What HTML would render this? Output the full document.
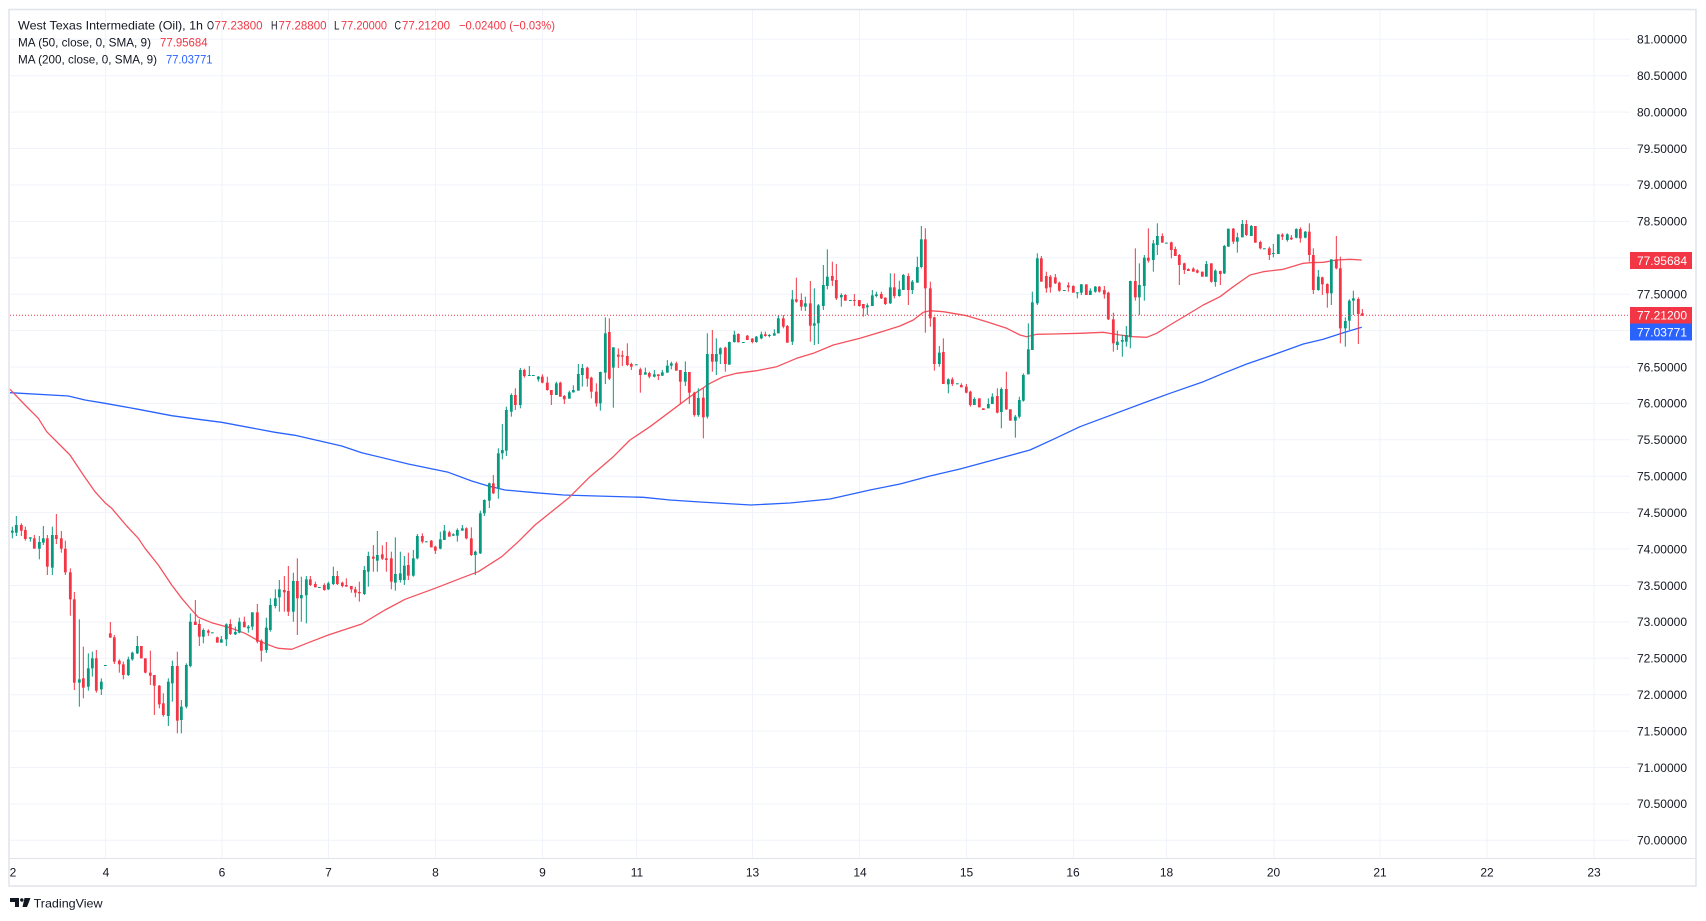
<!DOCTYPE html>
<html><head><meta charset="utf-8">
<style>
html,body{margin:0;padding:0;background:#fff;width:1706px;height:921px;overflow:hidden;}
svg{position:absolute;left:0;top:0;font-family:"Liberation Sans",sans-serif;}
</style></head>
<body>
<svg id="c" width="1706" height="921" viewBox="0 0 1706 921" xmlns="http://www.w3.org/2000/svg">
<rect x="0" y="0" width="1706" height="921" fill="#fff"/>
<!-- horizontal grid -->
<g stroke="#f0f3fa" stroke-width="1">
<line x1="10" y1="39.3" x2="1630" y2="39.3"/><line x1="10" y1="75.7" x2="1630" y2="75.7"/>
<line x1="10" y1="112.1" x2="1630" y2="112.1"/><line x1="10" y1="148.5" x2="1630" y2="148.5"/>
<line x1="10" y1="184.9" x2="1630" y2="184.9"/><line x1="10" y1="221.4" x2="1630" y2="221.4"/>
<line x1="10" y1="257.8" x2="1630" y2="257.8"/><line x1="10" y1="294.2" x2="1630" y2="294.2"/>
<line x1="10" y1="330.6" x2="1630" y2="330.6"/><line x1="10" y1="367" x2="1630" y2="367"/>
<line x1="10" y1="403.4" x2="1630" y2="403.4"/><line x1="10" y1="439.8" x2="1630" y2="439.8"/>
<line x1="10" y1="476.2" x2="1630" y2="476.2"/><line x1="10" y1="512.6" x2="1630" y2="512.6"/>
<line x1="10" y1="549" x2="1630" y2="549"/><line x1="10" y1="585.5" x2="1630" y2="585.5"/>
<line x1="10" y1="621.9" x2="1630" y2="621.9"/><line x1="10" y1="658.3" x2="1630" y2="658.3"/>
<line x1="10" y1="694.7" x2="1630" y2="694.7"/><line x1="10" y1="731.1" x2="1630" y2="731.1"/>
<line x1="10" y1="767.5" x2="1630" y2="767.5"/><line x1="10" y1="803.9" x2="1630" y2="803.9"/>
<line x1="10" y1="840.3" x2="1630" y2="840.3"/>
</g>
<!-- vertical grid -->
<g stroke="#f0f3fa" stroke-width="1">
<line x1="105.5" y1="10" x2="105.5" y2="858"/><line x1="222" y1="10" x2="222" y2="858"/>
<line x1="328.5" y1="10" x2="328.5" y2="858"/><line x1="435.5" y1="10" x2="435.5" y2="858"/>
<line x1="542.5" y1="10" x2="542.5" y2="858"/><line x1="636.5" y1="10" x2="636.5" y2="858"/>
<line x1="752.5" y1="10" x2="752.5" y2="858"/><line x1="859.5" y1="10" x2="859.5" y2="858"/>
<line x1="966.5" y1="10" x2="966.5" y2="858"/><line x1="1073.5" y1="10" x2="1073.5" y2="858"/>
<line x1="1166.5" y1="10" x2="1166.5" y2="858"/><line x1="1274" y1="10" x2="1274" y2="858"/>
<line x1="1380" y1="10" x2="1380" y2="858"/><line x1="1487" y1="10" x2="1487" y2="858"/>
<line x1="1594" y1="10" x2="1594" y2="858"/>
</g>
<!-- frame -->
<rect x="9" y="9.5" width="1687" height="876.5" fill="none" stroke="#e0e3eb" stroke-width="1.5"/>
<line x1="9" y1="858.5" x2="1696" y2="858.5" stroke="#e0e3eb" stroke-width="1"/>

<!-- MA lines -->
<polyline fill="none" stroke="#2962ff" stroke-width="1.3" stroke-linejoin="round" points="10,392.7 68.3,396 85,400 105,403.3 138.3,409.3 171.7,415.7 198.3,419.3 221.7,422.3 275,432.3 295,435.3 341.7,446 361.7,452.7 408.3,464 448.3,472.3 471.7,481 488.3,486 505,490 535,492.7 563.3,495 596.7,496 643.3,497.3 670,500 700,502 751,505 790,503 830,499 870,490 900,484 930,476 960,469 993.3,460 1030,450 1053.3,439.3 1080,426.7 1151.7,400 1170,393.3 1203.3,381.7 1223.3,373.3 1246.7,364 1270,356 1286.7,350 1303.3,344 1323.3,339.3 1343.3,332.7 1361.7,327.3"/>
<polyline fill="none" stroke="#f4525f" stroke-width="1.3" stroke-linejoin="round" points="10,389.3 25,405 38.3,418.3 46.7,431.7 60,445 70,455 83.3,475 95,491.7 105,502.7 111.7,508.3 126.7,526 138.3,538.3 145,548.3 158.3,565 171.7,585 181.7,598.3 191.7,610 198.3,617.3 211.7,622.7 231.7,628.3 245,633.3 258.3,640.7 275,647.3 278.3,648.3 291.7,649.3 308.3,642.7 328.3,635 361.7,624 385,610 405,599.3 435,588.3 465,576.7 478.3,571.7 501.7,556.7 518.3,541.7 535,525 568.3,498.3 590,476.7 613.3,456.7 630,440 650,426.7 670,411.7 690,396.7 710,383.3 723.3,376.7 736.7,373.3 756.7,370.7 776.7,366.7 796.7,358.3 813.3,353.3 833.3,345 860,338.3 880,332.3 900,326 913.3,320 923.3,312.3 930,310.7 943.3,311.7 966.7,315.7 986.7,321.7 1006.7,328.3 1020,335 1026.7,336.7 1036.7,334.3 1053.3,334 1080,333.3 1103.3,332.3 1120,335 1133.3,336.7 1146.7,337.3 1156.7,333.3 1170,325 1186.7,315 1203.3,305 1220,296.7 1233.3,286.7 1250,275 1263.3,271.7 1283.3,269.3 1303.3,263.3 1310,262.7 1323.3,262.3 1336.7,260 1350,259.3 1361.7,260"/>

<g id="candles"></g>

<!-- last price dotted line -->
<line x1="10" y1="315.2" x2="1630" y2="315.2" stroke="#f23645" stroke-width="1" stroke-dasharray="1 2"/>

<!-- header -->
<g font-size="12" fill="#131722">
<text x="18" y="29.3" textLength="185" lengthAdjust="spacingAndGlyphs">West Texas Intermediate (Oil), 1h</text>
<text x="207" y="29.3" textLength="7" lengthAdjust="spacingAndGlyphs">O</text>
<text x="214.5" y="29.3" fill="#f23645" textLength="48" lengthAdjust="spacingAndGlyphs">77.23800</text>
<text x="271" y="29.3" textLength="6.5" lengthAdjust="spacingAndGlyphs">H</text>
<text x="278.5" y="29.3" fill="#f23645" textLength="48" lengthAdjust="spacingAndGlyphs">77.28800</text>
<text x="334" y="29.3" textLength="5.5" lengthAdjust="spacingAndGlyphs">L</text>
<text x="341" y="29.3" fill="#f23645" textLength="46" lengthAdjust="spacingAndGlyphs">77.20000</text>
<text x="394.5" y="29.3" textLength="6.5" lengthAdjust="spacingAndGlyphs">C</text>
<text x="402" y="29.3" fill="#f23645" textLength="48" lengthAdjust="spacingAndGlyphs">77.21200</text>
<text x="459" y="29.3" fill="#f23645" textLength="96" lengthAdjust="spacingAndGlyphs">−0.02400 (−0.03%)</text>
<text x="18" y="46.6" textLength="133" lengthAdjust="spacingAndGlyphs">MA (50, close, 0, SMA, 9)</text>
<text x="160" y="46.6" fill="#f23645" textLength="47.6" lengthAdjust="spacingAndGlyphs">77.95684</text>
<text x="18" y="63.6" textLength="139" lengthAdjust="spacingAndGlyphs">MA (200, close, 0, SMA, 9)</text>
<text x="166" y="63.6" fill="#2962ff" textLength="46.5" lengthAdjust="spacingAndGlyphs">77.03771</text>
</g>

<!-- price axis labels -->
<g font-size="12" fill="#131722" text-anchor="end">
<text x="1687" y="43.6">81.00000</text><text x="1687" y="80">80.50000</text>
<text x="1687" y="116.4">80.00000</text><text x="1687" y="152.8">79.50000</text>
<text x="1687" y="189.2">79.00000</text><text x="1687" y="225.7">78.50000</text>
<text x="1687" y="298.5">77.50000</text>
<text x="1687" y="371.3">76.50000</text><text x="1687" y="407.7">76.00000</text>
<text x="1687" y="444.1">75.50000</text><text x="1687" y="480.5">75.00000</text>
<text x="1687" y="516.9">74.50000</text><text x="1687" y="553.3">74.00000</text>
<text x="1687" y="589.8">73.50000</text><text x="1687" y="626.2">73.00000</text>
<text x="1687" y="662.6">72.50000</text><text x="1687" y="699">72.00000</text>
<text x="1687" y="735.4">71.50000</text><text x="1687" y="771.8">71.00000</text>
<text x="1687" y="808.2">70.50000</text><text x="1687" y="844.6">70.00000</text>
</g>

<!-- price tags -->
<rect x="1630" y="252" width="62" height="17" fill="#f23645"/>
<rect x="1630" y="307" width="62" height="16.5" fill="#f23645"/>
<rect x="1630" y="323.5" width="62" height="17" fill="#2962ff"/>
<g font-size="12" fill="#fff" text-anchor="end">
<text x="1687" y="264.8">77.95684</text>
<text x="1687" y="319.6">77.21200</text>
<text x="1687" y="336.4">77.03771</text>
</g>

<!-- time axis labels -->
<g font-size="12" fill="#131722" text-anchor="middle">
<text x="13" y="876.3">2</text><text x="106" y="876.3">4</text><text x="222" y="876.3">6</text>
<text x="328.5" y="876.3">7</text><text x="435.5" y="876.3">8</text><text x="542.5" y="876.3">9</text>
<text x="637" y="876.3">11</text><text x="752.5" y="876.3">13</text><text x="860" y="876.3">14</text>
<text x="966.5" y="876.3">15</text><text x="1073" y="876.3">16</text><text x="1166.5" y="876.3">18</text>
<text x="1273.5" y="876.3">20</text><text x="1380" y="876.3">21</text><text x="1487" y="876.3">22</text>
<text x="1594" y="876.3">23</text>
</g>

<!-- TradingView logo -->
<g fill="#131722">
<path d="M10 898 H19 V907 H15 V902 H10 Z"/>
<circle cx="21.8" cy="900" r="1.7"/>
<path d="M24.5 898 H30.5 L27 907 H22.5 Z"/>
</g>
<text x="33.6" y="907.3" font-size="12" fill="#131722" textLength="69" lengthAdjust="spacingAndGlyphs">TradingView</text>
</svg>
<script>
(function(){
var A=[[22,1,632,638,620,655],[34,1,615,638,588,648],[49,0,615,632,610,648],[61,0,630,657,620,662],[76,1,652,656,652,665],[88,0,655,686,645,686],[103,1,666,686,648,718],[115,1,655,668,618,675],[127,0,655,740,645,765],[142,1,645,743,620,765],[154,0,645,657,582,672],[169,0,655,686,633,698],[181,0,686,757,662,765],[196,0,757,838,745,887],[208,0,838,1088,816,1110],[223,1,1078,1088,898,1160],[235,0,1075,1103,980,1135],[250,1,1045,1100,1000,1112],[262,1,1015,1045,995,1070],[274,0,1015,1112,990,1118],[289,1,1085,1108,1075,1125],[301,1,1035,1036,1035,1036],[316,0,940,953,906,953],[328,0,952,1025,945,1032],[343,0,1022,1033,1018,1058],[355,0,1033,1065,1025,1078],[370,1,1018,1065,1010,1068],[382,1,998,1018,995,1022],[397,1,978,1000,948,1002],[409,0,978,1015,978,1015],[421,0,1015,1058,1015,1060],[436,0,1058,1067,992,1095],[448,0,1065,1097,1065,1185],[463,0,1097,1153,1095,1165],[475,0,1150,1185,1120,1190],[490,1,1085,1188,1075,1218],[502,1,1038,1090,1022,1145],[517,0,1038,1202,995,1240],[529,1,1160,1200,1140,1240],[544,1,1035,1160,1030,1165],[556,1,905,1038,880,1042],[571,0,905,915,840,915],[583,0,912,950,898,978],[595,1,930,950,925,970],[610,0,932,938,928,948],[622,1,937,938,937,938],[637,0,952,968,950,968],[649,1,958,968,948,968],[664,1,913,958,910,978],[676,0,912,942,898,945],[691,1,936,943,920,945],[703,1,905,938,893,940],[718,0,905,922,890,922],[730,1,920,925,915,938],[742,1,877,920,877,930],[757,0,877,965,852,970],[769,0,962,992,958,1025],[784,1,925,990,893,998]];
var B=[[4,1,1043,1110,1040,1118],[16,1,975,1050,955,1055],[31,1,955,978,928,985],[43,1,928,952,900,995],[58,0,930,937,888,995],[70,0,933,995,858,1008],[85,1,903,995,878,1025],[97,0,903,955,835,1065],[109,1,945,955,890,1025],[124,1,898,946,888,1030],[136,0,898,915,888,918],[151,0,912,922,905,922],[163,1,921,922,921,922],[178,0,915,930,910,932],[190,1,910,928,905,930],[205,1,888,912,860,915],[217,0,888,912,873,915],[232,0,908,918,905,922],[244,0,915,920,895,920],[259,0,918,928,918,938],[271,0,928,938,920,952],[283,0,936,940,905,965],[298,1,870,942,858,945],[310,1,828,875,815,920],[325,0,830,836,795,875],[337,1,825,842,753,875],[352,0,823,836,796,840],[364,0,835,840,786,875],[379,0,835,905,815,928],[391,1,882,908,772,932],[406,1,880,900,815,908],[418,1,857,900,828,915],[430,0,855,887,818,900],[445,1,835,887,810,890],[457,1,768,835,762,838],[472,0,768,785,760,790],[484,1,784,785,784,785],[499,0,782,802,780,802],[511,0,800,812,797,822],[526,1,778,806,755,808],[538,1,752,780,735,780],[553,0,757,770,752,770],[565,1,763,767,760,768],[577,1,750,767,745,785],[592,1,745,752,735,752],[604,0,745,775,742,778],[619,0,775,825,742,828],[631,1,815,825,812,885],[646,1,700,820,692,822],[658,1,660,700,658,708],[673,1,610,662,608,684],[685,0,610,640,585,642],[700,1,520,625,505,656],[712,1,510,520,432,538],[724,1,390,512,380,528],[739,1,345,395,340,410],[751,0,345,375,325,390],[766,1,270,375,264,385],[778,0,270,288,266,293],[793,1,285,286,258,288],[805,1,285,286,285,286]];
var C=[[25,1,410,418,408,425],[37,0,410,428,403,430],[52,0,428,450,410,452],[64,0,450,465,450,495],[79,1,430,465,425,465],[91,0,428,470,425,470],[103,0,468,478,465,492],[118,1,457,476,452,476],[130,1,450,457,436,458],[145,1,402,452,372,452],[157,1,384,405,372,440],[172,0,383,416,380,440],[184,0,413,455,410,475],[199,0,455,490,430,500],[211,1,396,490,395,512],[226,1,280,398,232,432],[238,0,276,416,235,420],[250,1,322,383,322,503],[265,0,344,350,325,384],[277,0,346,350,332,378],[292,0,348,375,310,378],[304,0,372,380,368,390],[319,1,373,374,373,374],[331,0,388,405,383,458],[346,1,397,404,383,404],[358,0,399,410,395,415],[373,1,403,410,390,412],[385,0,403,408,403,420],[397,1,397,407,390,408],[412,1,377,398,360,398],[424,1,370,377,365,388],[439,0,370,392,365,392],[451,0,390,425,390,492],[466,1,396,425,364,438],[478,0,396,458,396,492],[493,0,458,525,455,530],[505,1,474,525,445,530],[520,0,473,532,445,595],[532,1,342,530,280,536],[547,0,342,365,270,395],[559,1,342,365,295,405],[571,1,325,343,322,372],[586,0,323,372,320,395],[598,1,306,374,305,374],[613,1,284,306,272,308],[625,0,282,307,280,307],[640,1,306,307,306,307],[652,0,287,300,285,300],[667,0,296,306,294,310],[679,1,290,306,288,308],[694,1,283,295,275,298],[706,0,283,288,275,290],[718,1,285,287,282,292],[733,1,280,287,268,287],[745,1,235,280,225,280],[760,0,235,260,225,265],[772,0,258,308,255,308],[787,1,178,305,150,315],[799,0,178,185,113,188]];
var D=[[4,0,300,320,280,332],[16,1,310,320,290,333],[31,0,310,377,243,425],[43,1,370,377,265,435],[55,1,316,370,312,432],[70,1,255,318,195,330],[82,1,230,258,148,268],[97,0,228,242,185,258],[109,0,240,295,192,300],[124,1,285,292,280,320],[136,0,285,302,282,302],[151,1,300,301,300,301],[163,0,300,301,282,318],[178,0,300,318,300,320],[190,0,312,325,312,350],[202,1,316,322,310,345],[217,1,286,318,270,318],[229,1,283,288,275,292],[244,0,282,295,275,297],[256,0,293,312,292,315],[271,1,262,310,220,312],[283,0,262,288,220,295],[298,1,268,288,242,290],[310,1,225,270,222,270],[325,0,228,270,220,315],[337,1,245,270,240,282],[352,1,201,248,170,248],[364,1,118,201,78,205],[376,0,118,265,85,398],[391,0,265,355,245,380],[403,0,352,492,350,512],[418,1,458,492,438,500],[430,0,456,552,415,552],[445,1,538,553,535,580],[457,0,538,552,532,558],[472,1,550,551,550,551],[484,0,555,562,550,562],[499,0,560,578,552,580],[511,0,575,615,572,620],[523,1,597,615,592,615],[538,0,595,622,595,622],[550,0,625,630,625,630],[565,1,612,625,595,625],[577,1,590,612,580,612],[592,0,588,638,565,640],[604,1,567,636,562,685],[619,0,567,628,515,630],[631,0,628,662,628,662],[646,1,650,662,645,713],[658,1,600,650,590,655],[670,1,525,602,520,605],[685,1,448,523,370,523],[697,1,307,450,275,450],[712,1,175,310,160,315],[724,0,175,245,168,245],[739,0,228,265,215,278],[751,0,230,262,225,278],[766,0,232,250,222,252],[778,0,248,272,245,275],[793,1,270,271,270,271],[805,0,256,262,247,275],[820,0,258,278,256,278]];
var E=[[22,1,277,278,277,295],[34,1,253,278,252,285],[49,0,253,285,253,285],[61,1,272,285,265,285],[76,1,260,275,258,278],[88,0,260,275,258,278],[103,0,270,283,258,296],[115,0,278,358,275,360],[130,0,358,430,338,455],[142,1,425,435,392,450],[157,1,420,425,405,470],[169,1,405,425,378,440],[181,1,243,412,242,445],[196,0,243,292,145,302],[208,1,255,292,190,345],[223,1,173,258,165,302],[235,0,173,182,85,188],[250,1,130,180,120,215],[262,1,108,135,70,165],[277,0,108,128,100,128],[289,1,128,129,128,129],[304,0,127,150,125,175],[316,0,147,168,140,168],[328,0,165,195,162,255],[343,0,190,210,188,222],[355,0,207,213,205,213],[370,0,206,215,202,215],[382,0,211,218,208,220],[397,0,215,230,215,230],[409,1,192,230,183,230],[424,0,190,245,190,248],[436,1,212,246,208,260],[451,0,213,222,212,255],[463,1,138,220,135,222],[475,1,86,140,86,140],[490,0,86,125,84,132],[502,1,112,125,98,158],[517,1,72,112,60,112],[529,0,72,105,60,108],[544,1,78,108,75,108],[556,0,78,128,78,128],[571,0,126,145,122,148],[583,1,145,146,145,146],[598,0,145,165,140,180],[610,1,159,161,132,172],[625,1,103,162,103,162],[637,0,104,110,100,120],[652,1,103,120,100,125],[664,0,113,118,105,120],[679,1,87,113,85,115],[691,0,87,115,82,128],[706,1,95,113,93,115],[718,0,95,165,70,185],[730,0,165,270,145,282],[745,1,230,270,210,272],[757,0,232,253,230,285],[772,0,252,280,250,323],[784,1,178,280,178,315],[799,0,178,205,108,208],[811,0,205,385,170,430],[826,1,363,385,352,440],[838,1,302,362,298,390],[850,1,295,302,272,345],[865,0,297,342,292,432],[877,0,340,347,327,348]];
var segs=[[5,320,A],[265,280,B],[530,240,C],[800,200,D],[1070,200,E]];
var G='#089981',R='#f23645',s='';
for(var i=0;i<segs.length;i++){var x0=segs[i][0],y0=segs[i][1],arr=segs[i][2];
 for(var j=0;j<arr.length;j++){var c=arr[j];var cx=x0+c[0]/3,col=c[1]?G:R;
  var bt=y0+c[2]/3,bb=y0+c[3]/3,wt=y0+Math.min(c[4],c[2])/3,wb=y0+Math.max(c[5],c[3])/3;
  var h=Math.max(bb-bt,1);
  s+='<line x1="'+cx.toFixed(2)+'" y1="'+wt.toFixed(2)+'" x2="'+cx.toFixed(2)+'" y2="'+wb.toFixed(2)+'" stroke="'+col+'" stroke-width="1"/>';
  s+='<rect x="'+(cx-1.4).toFixed(2)+'" y="'+bt.toFixed(2)+'" width="2.8" height="'+h.toFixed(2)+'" fill="'+col+'"/>';
 }}
document.getElementById('candles').innerHTML=s;
})();
</script>
</body></html>
